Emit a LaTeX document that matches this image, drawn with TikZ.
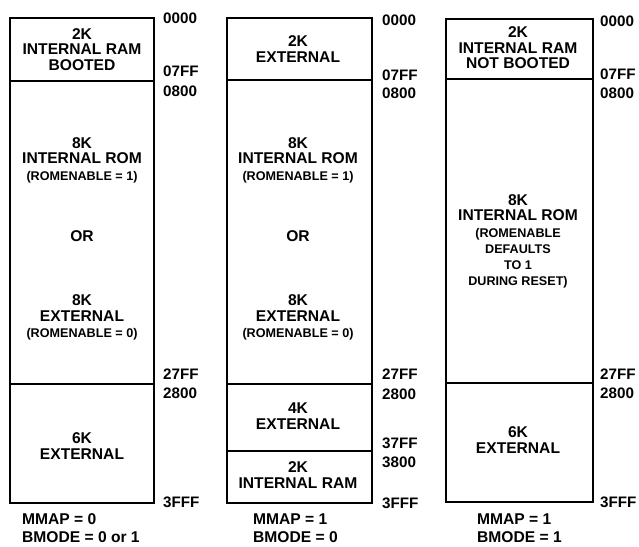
\documentclass[tikz,border=0pt]{standalone}
\usepackage{fontspec}
\setmainfont{Liberation Sans}
\begin{document}
\begin{tikzpicture}[x=1pt,y=-1pt,
    memline/.style={line width=1.4pt},
    bigtxt/.style={font=\bfseries\fontsize{15.6}{15.6}\selectfont,align=center,inner sep=0pt},
    smalltxt/.style={font=\bfseries\fontsize{12.6}{16}\selectfont,align=center,inner sep=0pt},
    addr/.style={font=\bfseries\fontsize{15.2}{15.2}\selectfont,anchor=west,inner sep=0pt},
    modetxt/.style={font=\bfseries\fontsize{15.6}{18}\selectfont,align=left,anchor=west,inner sep=0pt}]
  \useasboundingbox (0,0) rectangle (639,546);
  % MMAP = 0
  \draw[memline] (10,18) rectangle (154,503);
  \draw[memline] (10,81) -- (154,81);
  \draw[memline] (10,384) -- (154,384);
  \node[bigtxt] (ramA) at (82,49.5) {2K\\INTERNAL RAM\\BOOTED};
  \node[bigtxt] (romA) at (82,150.5) {8K\\INTERNAL ROM};
  \node[smalltxt] (romenA) at (82,177) {(ROMENABLE = 1)};
  \node[bigtxt] (orA) at (82,236) {OR};
  \node[bigtxt] (extA) at (82,308) {8K\\EXTERNAL};
  \node[smalltxt] (romdisA) at (82,334) {(ROMENABLE = 0)};
  \node[bigtxt] (sixA) at (82,446) {6K\\EXTERNAL};
  \node[addr] (a0000) at (163,18.7) {0000};
  \node[addr] (a07FF) at (163,71) {07FF};
  \node[addr] (a0800) at (163,91) {0800};
  \node[addr] (a27FF) at (163,374) {27FF};
  \node[addr] (a2800) at (163,393) {2800};
  \node[addr] (a3FFF) at (163,502.5) {3FFF};
  \node[modetxt] (modeA) at (22,528.5) {MMAP = 0\\BMODE = 0 or 1};
  % MMAP = 1, BMODE = 0
  \draw[memline] (227,18) rectangle (372,503);
  \draw[memline] (227,80) -- (372,80);
  \draw[memline] (227,384) -- (372,384);
  \draw[memline] (227,451) -- (372,451);
  \node[bigtxt] (extB) at (298,49) {2K\\EXTERNAL};
  \node[bigtxt] (romB) at (298,150.5) {8K\\INTERNAL ROM};
  \node[smalltxt] (romenB) at (298,177) {(ROMENABLE = 1)};
  \node[bigtxt] (orB) at (298,236) {OR};
  \node[bigtxt] (ext8B) at (298,308) {8K\\EXTERNAL};
  \node[smalltxt] (romdisB) at (298,334) {(ROMENABLE = 0)};
  \node[bigtxt] (fourB) at (298,416) {4K\\EXTERNAL};
  \node[bigtxt] (ramB) at (298,475) {2K\\INTERNAL RAM};
  \node[addr] (b0000) at (382,20.5) {0000};
  \node[addr] (b07FF) at (382,75) {07FF};
  \node[addr] (b0800) at (382,93) {0800};
  \node[addr] (b27FF) at (382,374) {27FF};
  \node[addr] (b2800) at (382,394) {2800};
  \node[addr] (b37FF) at (382,443) {37FF};
  \node[addr] (b3800) at (382,462) {3800};
  \node[addr] (b3FFF) at (382,503) {3FFF};
  \node[modetxt] (modeB) at (253,528.5) {MMAP = 1\\BMODE = 0};
  % MMAP = 1, BMODE = 1
  \draw[memline] (446,19) rectangle (593,502);
  \draw[memline] (446,79) -- (593,79);
  \draw[memline] (446,383) -- (593,383);
  \node[bigtxt] (ramC) at (518,48) {2K\\INTERNAL RAM\\NOT BOOTED};
  \node[bigtxt] (romC) at (518,207.5) {8K\\INTERNAL ROM};
  \node[smalltxt] (romenC) at (518,258) {(ROMENABLE\\DEFAULTS\\TO 1\\DURING RESET)};
  \node[bigtxt] (sixC) at (518,440) {6K\\EXTERNAL};
  \node[addr] (c0000) at (600,21) {0000};
  \node[addr] (c07FF) at (600,74) {07FF};
  \node[addr] (c0800) at (600,93) {0800};
  \node[addr] (c27FF) at (600,374) {27FF};
  \node[addr] (c2800) at (600,393) {2800};
  \node[addr] (c3FFF) at (600,502) {3FFF};
  \node[modetxt] (modeC) at (477,528.5) {MMAP = 1\\BMODE = 1};
\end{tikzpicture}
\end{document}
